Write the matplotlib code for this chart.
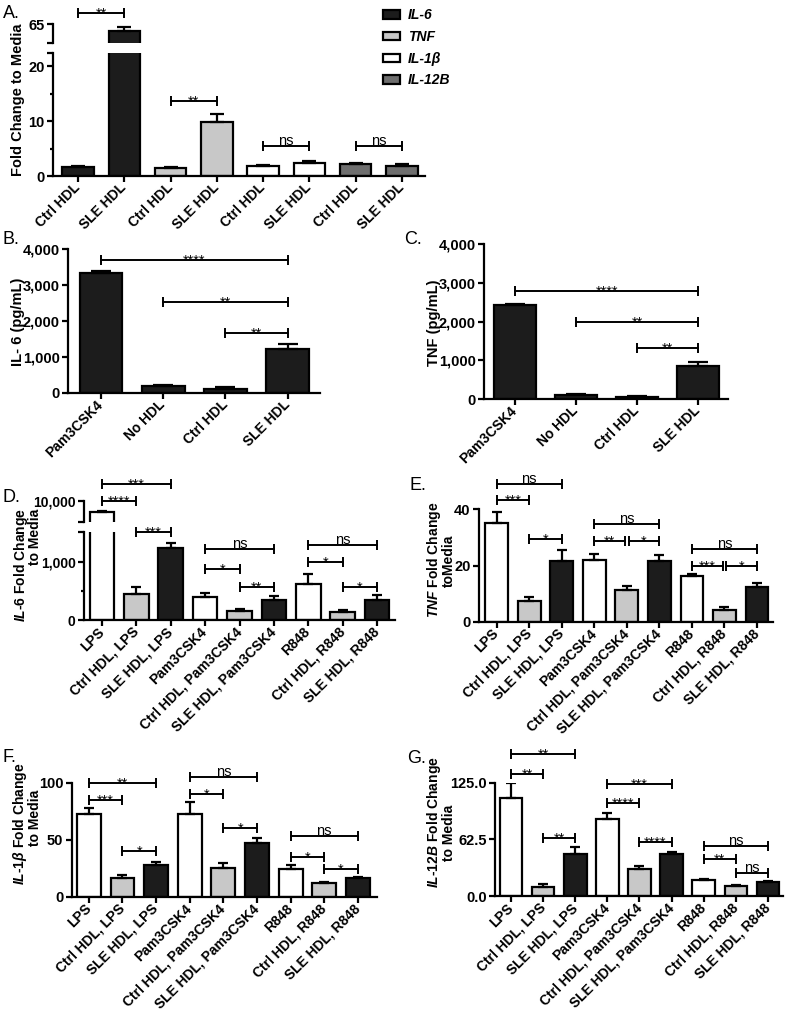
import matplotlib
matplotlib.use("Agg")
import matplotlib.pyplot as plt
import numpy as np
from matplotlib.patches import Patch
from matplotlib.ticker import FuncFormatter

plt.rcParams['font.family'] = ['Liberation Sans', 'DejaVu Sans']
plt.rcParams['font.weight'] = 'bold'
plt.rcParams['mathtext.fontset'] = 'custom'
plt.rcParams['mathtext.it'] = 'Liberation Sans:italic:bold'
plt.rcParams['mathtext.rm'] = 'Liberation Sans:bold'
plt.rcParams['mathtext.bf'] = 'Liberation Sans:bold'

# ---- data ----
# A: fold change, 4 genes x (Ctrl HDL, SLE HDL)
a_genes = ["IL-6", "TNF", "IL-1β", "IL-12B"]
a_gene_colors = ["#1c1c1c", "#c8c8c8", "#ffffff", "#6e6e6e"]
a_labels = ["Ctrl HDL", "SLE HDL"] * 4
a_mean = [1.7, 61.5, 1.5, 9.8, 1.8, 2.3, 2.1, 1.8]
a_err = [0.2, 2.2, 0.2, 1.5, 0.2, 0.4, 0.3, 0.3]
a_sig = [(0, 1, 71.0, "**"), (2, 3, 13.7, "**"), (4, 5, 5.4, "ns"), (6, 7, 5.4, "ns")]

# B / C: pg/mL
bc_labels = ["Pam3CSK4", "No HDL", "Ctrl HDL", "SLE HDL"]
b_mean = [3340, 200, 120, 1210]
b_err = [50, 20, 50, 140]
b_sig = [(0, 3, 3700, "****"), (1, 3, 2530, "**"), (2, 3, 1670, "**")]
c_mean = [2420, 110, 50, 860]
c_err = [40, 20, 15, 100]
c_sig = [(0, 3, 2780, "****"), (1, 3, 1980, "**"), (2, 3, 1310, "**")]

# D-G: fold change to media
tlr_labels = ["LPS", "Ctrl HDL, LPS", "SLE HDL, LPS",
              "Pam3CSK4", "Ctrl HDL, Pam3CSK4", "SLE HDL, Pam3CSK4",
              "R848", "Ctrl HDL, R848", "SLE HDL, R848"]
tlr_colors = ["#ffffff", "#c8c8c8", "#1c1c1c"] * 3

d_mean = [7240, 446, 1230, 389, 154, 349, 617, 143, 343]
d_err = [300, 114, 85, 69, 40, 63, 166, 28, 80]
d_sig = [(0, 2, 14000, "***"), (0, 1, 9930, "****"), (1, 2, 1505, "***"),
         (3, 5, 1223, "ns"), (3, 4, 875, "*"), (4, 5, 571, "**"),
         (6, 8, 1286, "ns"), (6, 7, 989, "*"), (7, 8, 571, "*")]

e_mean = [35.0, 7.4, 21.6, 21.8, 11.2, 21.5, 16.1, 4.2, 12.2]
e_err = [3.9, 1.3, 3.9, 2.2, 1.5, 2.4, 1.0, 1.0, 1.7]
e_sig = [(0, 2, 49.0, "ns"), (0, 1, 43.3, "***"), (1, 2, 29.6, "*"),
         (3, 5, 34.7, "ns"), (3, 4, 28.8, "**"), (4, 5, 28.8, "*"),
         (6, 8, 25.8, "ns"), (6, 7, 19.9, "***"), (7, 8, 19.9, "*")]

f_mean = [72.2, 16.7, 27.8, 72.2, 24.9, 47.1, 24.6, 11.7, 16.1]
f_err = [5.3, 2.3, 2.9, 10.5, 4.3, 4.4, 3.2, 1.2, 0.9]
f_sig = [(0, 2, 99.4, "**"), (0, 1, 84.8, "***"), (1, 2, 40.1, "*"),
         (3, 5, 104.7, "ns"), (3, 4, 90.1, "*"), (4, 5, 59.9, "*"),
         (6, 8, 53.5, "ns"), (6, 7, 35.1, "*"), (7, 8, 24.3, "*")]

g_mean = [107.7, 10.3, 46.0, 84.9, 30.1, 46.3, 17.6, 11.4, 15.4]
g_err = [16.6, 2.6, 8.4, 7.0, 3.0, 1.9, 0.8, 1.1, 0.8]
g_sig = [(0, 2, 156.7, "**"), (0, 1, 134.6, "**"), (1, 2, 63.6, "**"),
         (3, 5, 123.2, "***"), (3, 4, 102.9, "****"), (4, 5, 59.9, "****"),
         (6, 8, 55.1, "ns"), (6, 7, 40.4, "**"), (7, 8, 25.0, "ns")]

W, H = 800, 1013
LW = 1.6
fig = plt.figure(figsize=(W / 100, H / 100), dpi=100)


def px_axes(left, right, top, bottom):
    # pixel box -> axes
    return fig.add_axes([left / W, 1 - bottom / H, (right - left) / W, (bottom - top) / H])


def style(ax):
    for s in ["top", "right"]:
        ax.spines[s].set_visible(False)
    for s in ["left", "bottom"]:
        ax.spines[s].set_linewidth(LW)
    ax.tick_params(width=LW, length=4, labelsize=10.5, pad=2)
    ax.tick_params(axis="x", labelsize=10, pad=3)
    ax.tick_params(which="minor", width=LW, length=2.5)


def draw_bars(ax, means, errs, colors, width, capsize):
    x = np.arange(len(means))
    ax.bar(x, means, width=width, color=colors, edgecolor="black", linewidth=LW, zorder=2)
    ax.errorbar(x, means, yerr=[np.zeros(len(means)), errs], fmt="none", ecolor="black",
                elinewidth=LW, capsize=capsize, capthick=LW, zorder=3)


def add_sig(ax, sigs, hi_ax=None, split=None, fs=10.5):
    for i, j, y, txt in sigs:
        target = hi_ax if (hi_ax is not None and y > split) else ax
        x1, x2 = float(i), float(j)
        for k, l, y2, _ in sigs:
            if y2 == y and (k, l) != (i, j):
                if k == j:
                    x2 -= 0.06
                if l == i:
                    x1 += 0.06
        target.plot([x1, x2], [y, y], color="black", lw=1.4, marker="|", ms=6.5, mew=1.4,
                    clip_on=False, zorder=4)
        off = -3.5 if "*" in txt else 0.8
        target.annotate(txt, ((x1 + x2) / 2, y), xytext=(0, off), textcoords="offset points",
                        ha="center", va="baseline", fontsize=fs, fontweight="normal",
                        annotation_clip=False)


def set_xlabels(ax, labels):
    ax.set_xticks(np.arange(len(labels)))
    ax.set_xticklabels(labels, rotation=45, ha="right", va="center", rotation_mode="anchor")


def ylabel(x, y, text, size=10.5):
    fig.text(x / W, 1 - y / H, text, rotation=90, ha="center", va="center", fontsize=size)


comma = FuncFormatter(lambda v, p: f"{v:,.0f}")

# ---- A (broken axis) ----
a_colors = [c for c in a_gene_colors for _ in range(2)]
axA = px_axes(53, 425, 53.3, 176)
axA_hi = px_axes(53, 425, 24.3, 43.3)
for ax in (axA, axA_hi):
    draw_bars(ax, a_mean, a_err, a_colors, 0.68, 5)
    ax.set_xlim(-0.54, 7.5)
    style(ax)
axA.set_ylim(0, 22.4)
axA.set_yticks([0, 10, 20, 22.4], ["0", "10", "20", ""])
axA.set_yticks([5, 15], minor=True)
set_xlabels(axA, a_labels)
axA_hi.set_ylim(55, 65)
axA_hi.set_yticks([55, 65], ["", "65"])
axA_hi.spines["bottom"].set_visible(False)
axA_hi.set_xticks([])
add_sig(axA, a_sig, axA_hi, 22.4)
ylabel(18.5, 100, "Fold Change to Media")
fig.legend(handles=[Patch(facecolor=c, edgecolor="black", linewidth=LW, label=g)
                    for g, c in zip(a_genes, a_gene_colors)],
           loc="upper left", bbox_to_anchor=(370 / W, 1 + 4 / H), frameon=False,
           prop=dict(family="Liberation Sans", style="italic", weight="bold", size=10),
           handlelength=1.25, handleheight=0.55, labelspacing=0.55, handletextpad=0.6)

# ---- B ----
axB = px_axes(68, 320, 249, 393)
draw_bars(axB, b_mean, b_err, ["#1c1c1c"] * 4, 0.69, 7)
axB.set_xlim(-0.53, 3.52)
axB.set_ylim(0, 4000)
axB.set_yticks([0, 1000, 2000, 3000, 4000])
axB.yaxis.set_major_formatter(comma)
style(axB)
set_xlabels(axB, bc_labels)
add_sig(axB, b_sig)
ylabel(18, 322, "IL- 6 (pg/mL)")

# ---- C ----
axC = px_axes(484, 728, 244, 399)
draw_bars(axC, c_mean, c_err, ["#1c1c1c"] * 4, 0.69, 7)
axC.set_xlim(-0.51, 3.49)
axC.set_ylim(0, 4000)
axC.set_yticks([0, 1000, 2000, 3000, 4000])
axC.yaxis.set_major_formatter(comma)
style(axC)
set_xlabels(axC, bc_labels)
add_sig(axC, c_sig)
ylabel(434, 323, "TNF (pg/mL)")

# ---- D (broken axis) ----
axD = px_axes(84, 395, 531.7, 620)
axD_hi = px_axes(84, 395, 500.7, 521.7)
for ax in (axD, axD_hi):
    draw_bars(ax, d_mean, d_err, tlr_colors, 0.72, 3.5)
    ax.set_xlim(-0.52, 8.52)
    style(ax)
    ax.tick_params(axis="y", labelsize=10)
axD.set_ylim(0, 1515)
axD.set_yticks([0, 1000, 1515], ["0", "1,000", ""])
axD.set_yticks([500], minor=True)
set_xlabels(axD, tlr_labels)
axD_hi.set_ylim(5000, 10000)
axD_hi.set_yticks([5000, 10000], ["", "10,000"])
axD_hi.spines["bottom"].set_visible(False)
axD_hi.set_xticks([])
add_sig(axD, d_sig, axD_hi, 1515)
ylabel(21, 565, "$\\mathit{IL}$-$\\mathit{6}$ Fold Change", size=10)
ylabel(35, 537, "to Media", size=10)

# ---- E ----
axE = px_axes(479, 773, 509.3, 621.7)
draw_bars(axE, e_mean, e_err, tlr_colors, 0.7, 3.5)
axE.set_xlim(-0.54, 8.49)
axE.set_ylim(0, 40)
axE.set_yticks([0, 20, 40])
style(axE)
set_xlabels(axE, tlr_labels)
add_sig(axE, e_sig)
ylabel(434, 560, "$\\mathit{TNF}$ Fold Change", size=10)
ylabel(449, 561, "toMedia", size=10)

# ---- F ----
axF = px_axes(71.7, 376.7, 782.7, 896.7)
draw_bars(axF, f_mean, f_err, tlr_colors, 0.71, 3.5)
axF.set_xlim(-0.51, 8.56)
axF.set_ylim(0, 100)
axF.set_yticks([0, 50, 100])
style(axF)
set_xlabels(axF, tlr_labels)
add_sig(axF, f_sig)
ylabel(20, 824, "$\\mathit{IL}$-$\\mathit{1β}$ Fold Change", size=10)
ylabel(35, 818, "to Media", size=10)

# ---- G ----
axG = px_axes(495, 783, 782.7, 896)
draw_bars(axG, g_mean, g_err, tlr_colors, 0.7, 3.5)
axG.set_xlim(-0.5, 8.47)
axG.set_ylim(0, 125)
axG.set_yticks([0, 62.5, 125])
axG.yaxis.set_major_formatter(FuncFormatter(lambda v, p: f"{v:.1f}"))
style(axG)
set_xlabels(axG, tlr_labels)
add_sig(axG, g_sig)
ylabel(434, 822, "$\\mathit{IL}$-$\\mathit{12B}$ Fold Change", size=10)
ylabel(449, 833, "to Media", size=10)

# panel letters
for letter, x, y in [("A.", 3, 18), ("B.", 3, 244), ("C.", 404, 244), ("D.", 3, 502),
                     ("E.", 410, 490), ("F.", 3, 762), ("G.", 407, 763)]:
    fig.text(x / W, 1 - y / H, letter, fontsize=13, fontweight="normal", va="baseline")

fig.savefig("out.png", dpi=100)
